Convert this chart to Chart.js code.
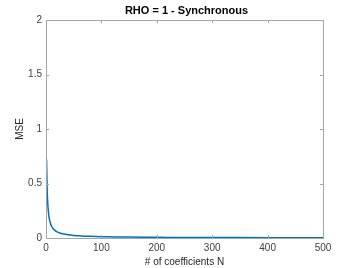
<!DOCTYPE html>
<html>
<head>
<meta charset="utf-8">
<script src="https://cdn.jsdelivr.net/npm/chart.js@4"></script>
<style>
  html, body { margin: 0; padding: 0; background: #fff; }
  #wrap { width: 357px; height: 268px; }
</style>
</head>
<body>
<div id="wrap"><canvas id="mseChart" width="357" height="268"></canvas></div>
<script>
// values
const nValues = [1, 2, 3, 4, 5, 6, 8, 10, 13, 16, 20, 25, 30, 40, 50, 60, 70, 80, 100, 125, 150, 200, 250, 300, 400, 500];
const mseValues = [0.72, 0.46, 0.33, 0.26, 0.21, 0.175, 0.135, 0.108, 0.085, 0.07, 0.056, 0.046, 0.039, 0.03, 0.024, 0.02, 0.017, 0.015, 0.012, 0.0097, 0.0082, 0.0062, 0.005, 0.0042, 0.0032, 0.0026];
const xTicks = [0, 100, 200, 300, 400, 500];
const yTicks = [0, 0.5, 1, 1.5, 2];
const chartTitle = 'RHO = 1 - Synchronous';

const points = nValues.map((n, i) => ({ x: n, y: mseValues[i] }));

// matlab style box with inward ticks, title centred over the axes
const boxPlugin = {
    id: 'box',
    afterDraw(chart) {
        const { ctx, chartArea: a, scales } = chart;
        ctx.save();
        ctx.strokeStyle = '#a6a6a6';
        ctx.lineWidth = 1;
        ctx.strokeRect(a.left + 0.5, a.top + 0.5, a.right - a.left, a.bottom - a.top);
        ctx.beginPath();
        xTicks.forEach(v => {
            const px = Math.round(scales.x.getPixelForValue(v)) + 0.5;
            ctx.moveTo(px, a.bottom); ctx.lineTo(px, a.bottom - 3);
            ctx.moveTo(px, a.top); ctx.lineTo(px, a.top + 3);
        });
        yTicks.forEach(v => {
            const py = Math.round(scales.y.getPixelForValue(v)) + 0.5;
            ctx.moveTo(a.left, py); ctx.lineTo(a.left + 3, py);
            ctx.moveTo(a.right, py); ctx.lineTo(a.right - 3, py);
        });
        ctx.stroke();

        ctx.fillStyle = '#000';
        ctx.font = 'bold 11px "Liberation Sans"';
        ctx.textAlign = 'center';
        ctx.textBaseline = 'middle';
        ctx.fillText(chartTitle, (a.left + a.right) / 2 + 2, 11);
        ctx.restore();
    }
};

const ctx = document.getElementById('mseChart').getContext('2d');
new Chart(ctx, {
    type: 'line',
    data: {
        datasets: [{
            data: points,
            borderColor: '#0072BD',
            borderWidth: 1.5,
            pointRadius: 0,
            fill: false,
            tension: 0.3
        }]
    },
    options: {
        responsive: false,
        animation: false,
        layout: { padding: { left: 14, right: 34, top: 20, bottom: 0 } },
        plugins: {
            legend: { display: false },
            tooltip: { enabled: false },
            title: { display: false }
        },
        scales: {
            x: {
                type: 'linear',
                min: 0,
                max: 500,
                grid: { display: false, drawTicks: false },
                border: { display: false },
                afterBuildTicks: s => { s.ticks = xTicks.map(v => ({ value: v })); },
                ticks: {
                    color: '#404040',
                    padding: 4,
                    maxRotation: 0,
                    callback: v => String(v),
                    font: { family: 'Liberation Sans', size: 10 }
                },
                title: {
                    display: true,
                    text: '# of coefficients N',
                    color: '#262626',
                    padding: { top: 0, bottom: 0 },
                    font: { family: 'Liberation Sans', size: 10 }
                },
                afterFit: s => { s.height = 30; }
            },
            y: {
                min: 0,
                max: 2,
                grid: { display: false, drawTicks: false },
                border: { display: false },
                afterBuildTicks: s => { s.ticks = yTicks.map(v => ({ value: v })); },
                ticks: {
                    color: '#404040',
                    padding: 4,
                    callback: v => String(v),
                    font: { family: 'Liberation Sans', size: 10 }
                },
                title: {
                    display: true,
                    text: 'MSE',
                    color: '#262626',
                    padding: { top: 0, bottom: 0 },
                    font: { family: 'Liberation Sans', size: 10 }
                },
                afterFit: s => { s.width = 32; }
            }
        }
    },
    plugins: [boxPlugin]
});
</script>
</body>
</html>
